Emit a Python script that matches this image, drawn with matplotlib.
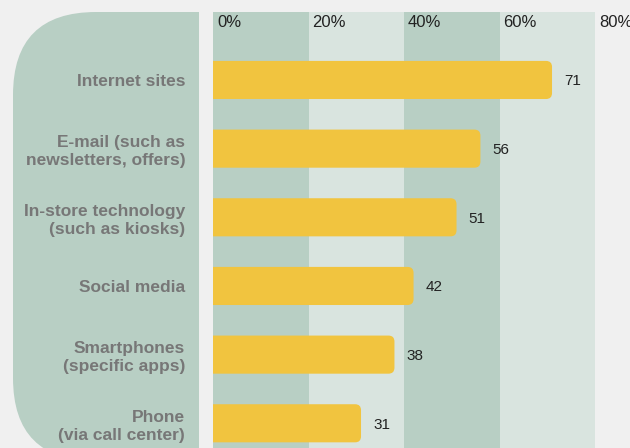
import matplotlib
matplotlib.use("Agg")
from matplotlib import pyplot as plt
from matplotlib.patches import FancyBboxPatch, Rectangle
from matplotlib.transforms import offset_copy, blended_transform_factory

# dados
categorias = ["Internet sites", "E-mail (such as\nnewsletters, offers)",
              "In-store technology\n(such as kiosks)", "Social media",
              "Smartphones\n(specific apps)", "Phone\n(via call center)"]
valores = [71, 56, 51, 42, 38, 31]
ticks = [0, 20, 40, 60, 80]
tick_labels = ["0%", "20%", "40%", "60%", "80%"]

fundo = "#f0f0f0"
verde = "#b8cfc4"
verde_claro = "#d9e4df"
amarelo = "#f1c43f"
cinza = "#777777"

plt.rcParams["font.family"] = ["Liberation Sans", "DejaVu Sans"]

W, H = 630, 448
fig = plt.figure(figsize=(W / 100, H / 100), dpi=100, facecolor=fundo)

# painel da esquerda (coordenadas em pixels)
bg = fig.add_axes([0, 0, 1, 1], zorder=0)
bg.set_xlim(0, W)
bg.set_ylim(H, 0)
bg.axis("off")
bg.add_patch(FancyBboxPatch((13, 12), 186, 449, boxstyle="round,pad=0,rounding_size=83",
                            fc=verde, ec="none"))
bg.add_patch(Rectangle((110, 12), 89, 449, fc=verde, ec="none"))
bg.add_patch(FancyBboxPatch((213, 12), 60, 470, boxstyle="round,pad=0,rounding_size=6",
                            fc=verde, ec="none"))

# area do grafico
x0, x1, y0 = 213, 595, 12
ax = fig.add_axes([x0 / W, 0, (x1 - x0) / W, 1 - y0 / H], zorder=1)
ax.patch.set_alpha(0)
ax.set_xlim(0, 80)
ax.set_ylim(5.36, -0.99)
for i, (a, b) in enumerate(zip(ticks[:-1], ticks[1:])):
    ax.axvspan(a, b, color=verde if i % 2 == 0 else verde_claro, lw=0, zorder=0)
ax.axvspan(0, 1.2, ymin=0.5, color=verde, lw=0, zorder=0)

# barras arredondadas
px_x = 80 / (x1 - x0)
px_y = 6.35 / (H - y0)
alt = 0.555
for i, v in enumerate(valores):
    p = FancyBboxPatch((-3, i - alt / 2), v + 3, alt,
                       boxstyle="round,pad=0,rounding_size=%f" % (6 * px_x),
                       mutation_aspect=px_y / px_x, fc=amarelo, ec="none", zorder=2)
    ax.add_patch(p)
    ax.annotate(str(v), (v, i + 0.02), xytext=(12, 0), textcoords="offset pixels",
                ha="left", va="center", fontsize=11, color="#222222")

# rotulos do eixo x no topo
trans = offset_copy(blended_transform_factory(ax.transData, ax.transAxes), fig=fig,
                    x=4, y=0, units="dots")
for t, l in zip(ticks, tick_labels):
    ax.text(t, 0.975, l, transform=trans, ha="left", va="center", fontsize=12,
            color="#222222", clip_on=False)

ax.set_xticks([])
ax.set_yticks(range(len(categorias)))
ax.set_yticklabels(categorias, fontsize=12.5, fontweight="bold", color=cinza,
                   linespacing=1.25)
ax.tick_params(axis="y", length=0, pad=20)
for s in ax.spines.values():
    s.set_visible(False)

fig.savefig("out.png", dpi=100, facecolor=fundo)
